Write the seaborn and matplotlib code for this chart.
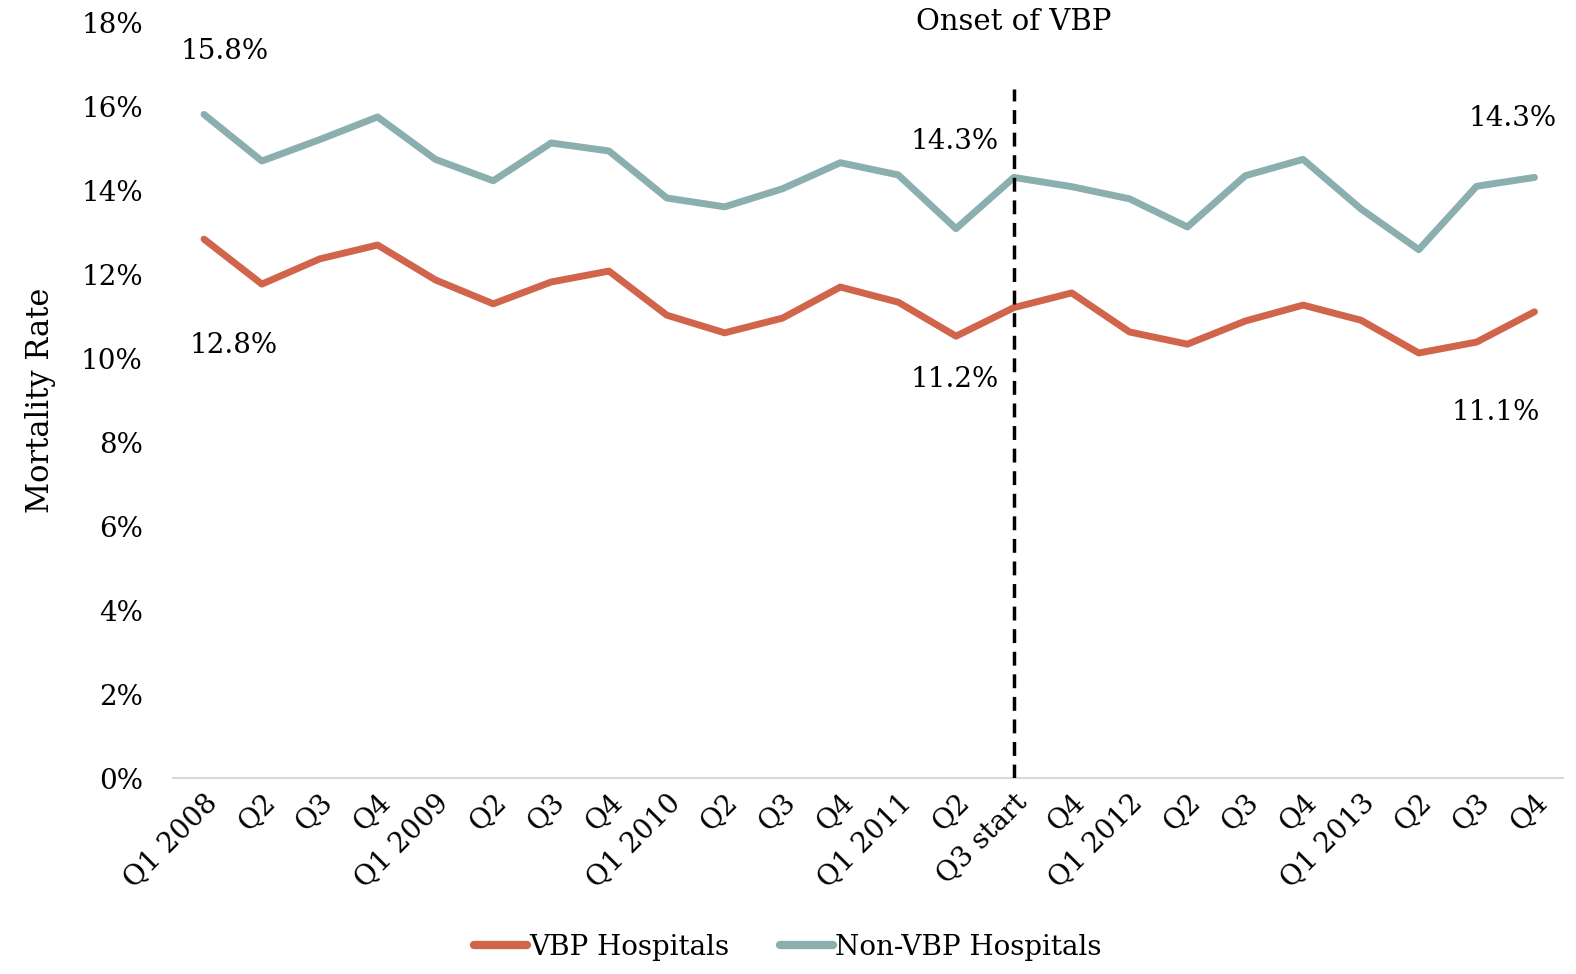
from matplotlib import pyplot as plt
from matplotlib.ticker import FuncFormatter
import pandas as pd
import seaborn as sns

# quarters, Q1 2008 .. Q4 2013
quarters = ['Q1 2008', 'Q2', 'Q3', 'Q4',
            'Q1 2009', 'Q2', 'Q3', 'Q4',
            'Q1 2010', 'Q2', 'Q3', 'Q4',
            'Q1 2011', 'Q2', 'Q3 start', 'Q4',
            'Q1 2012', 'Q2', 'Q3', 'Q4',
            'Q1 2013', 'Q2', 'Q3', 'Q4']

# mortality rate in %
vbp = [12.83, 11.76, 12.36, 12.69, 11.86, 11.29, 11.81, 12.07,
       11.02, 10.60, 10.95, 11.69, 11.33, 10.52, 11.2, 11.55,
       10.62, 10.33, 10.88, 11.26, 10.90, 10.12, 10.38, 11.1]
non_vbp = [15.8, 14.69, 15.2, 15.74, 14.73, 14.22, 15.12, 14.93,
           13.81, 13.6, 14.03, 14.65, 14.36, 13.08, 14.3, 14.08,
           13.79, 13.12, 14.34, 14.73, 13.55, 12.58, 14.09, 14.3]

series_names = ['VBP Hospitals', 'Non-VBP Hospitals']
colors = ['#D1654B', '#8BAFAF']
onset_label = 'Q3 start'
onset_top = 16.4

df = pd.concat([
    pd.DataFrame({'pos': range(len(quarters)), 'rate': vbp, 'series': series_names[0]}),
    pd.DataFrame({'pos': range(len(quarters)), 'rate': non_vbp, 'series': series_names[1]}),
])

sns.set_style('white')
plt.rcParams['font.family'] = ['DejaVu Serif']
plt.rcParams['text.color'] = 'black'
plt.rcParams['xtick.color'] = 'black'
plt.rcParams['ytick.color'] = 'black'
plt.rcParams['axes.labelcolor'] = 'black'

fig = plt.figure(figsize=(15.76, 9.74), dpi=100)
ax = fig.add_axes([0.110, 0.2012, 0.882, 0.7762])

sns.lineplot(data=df, x='pos', y='rate', hue='series', palette=colors,
             linewidth=5, sort=False, ax=ax, legend=True)

onset = quarters.index(onset_label)
ax.vlines(onset, 0, onset_top, colors='black', linestyles=(0, (4, 2.5)), linewidth=2.5, zorder=5)
ax.text(onset, 18, 'Onset of VBP', ha='center', va='center', fontsize=21)

ax.set_xlim(-0.53, len(quarters) - 0.5)
ax.set_ylim(0, 18)
ax.set_yticks(range(0, 19, 2))
ax.yaxis.set_major_formatter(FuncFormatter(lambda v, _: f'{v:.0f}%'))
ax.set_xticks(range(len(quarters)))
ax.set_xticklabels(quarters, rotation=45, ha='right', rotation_mode='anchor', fontsize=20)
ax.tick_params(axis='y', labelsize=20, length=0, pad=22)
ax.tick_params(axis='x', length=0, pad=8)
ax.set_xlabel('')
ax.set_ylabel('Mortality Rate', fontsize=22, labelpad=18)
for side in ['top', 'right', 'left']:
    ax.spines[side].set_visible(False)
ax.spines['bottom'].set_color('#d9d9d9')
ax.spines['bottom'].set_linewidth(1.5)

# value labels
last = len(quarters) - 1
notes = [
    (0, non_vbp[0], (21, 63)),
    (0, vbp[0], (30, -106)),
    (onset, non_vbp[onset], (-59, 36)),
    (onset, vbp[onset], (-59, -72)),
    (last, non_vbp[last], (-22, 59)),
    (last, vbp[last], (-39, -101)),
]
for xi, yv, off in notes:
    ax.annotate(f'{yv:.1f}%', (xi, yv), xytext=off, textcoords='offset pixels',
                ha='center', va='center', fontsize=20)

handles, labels = ax.get_legend_handles_labels()
ax.legend_.remove()
leg = fig.legend(handles, labels, loc='lower center', bbox_to_anchor=(0.5, -0.012), ncol=2,
                 frameon=False, fontsize=20, handlelength=1.9, handletextpad=0.1, columnspacing=1.8)
for line in leg.get_lines():
    line.set_linewidth(6)

fig.savefig('out.png', dpi=100)
